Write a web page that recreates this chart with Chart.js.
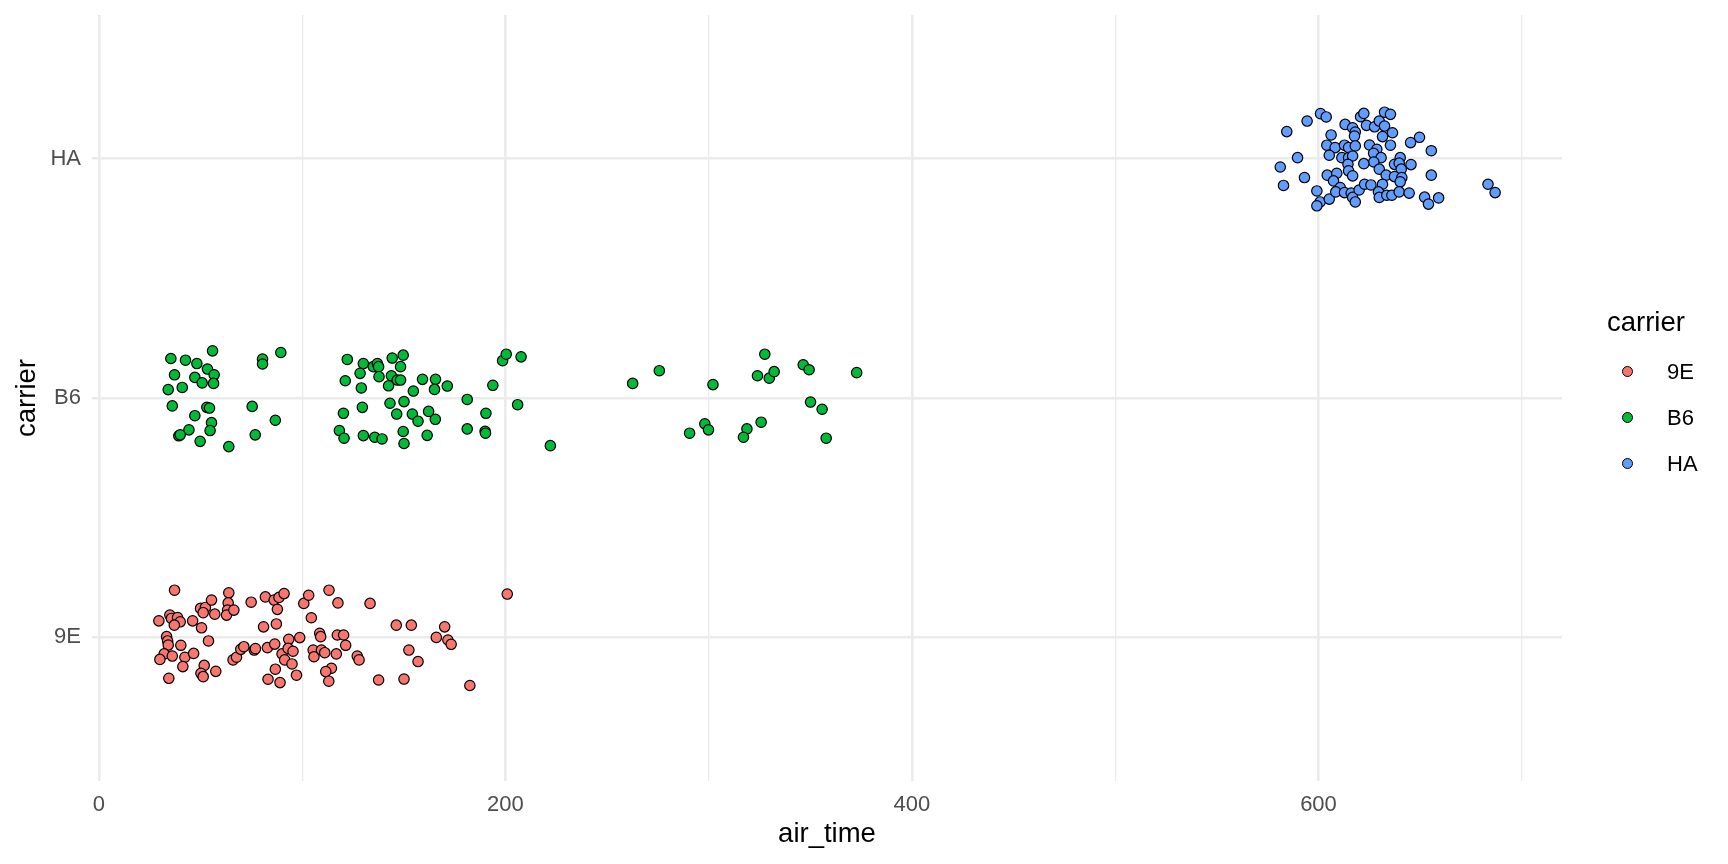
<!DOCTYPE html>
<html>
<head>
<meta charset="utf-8">
<title>air_time by carrier</title>
<script src="https://cdn.jsdelivr.net/npm/chart.js@4.4.1/dist/chart.umd.min.js"></script>
<style>
  body { margin: 0; background: #fff; }
  #wrap { position: relative; width: 1728px; height: 864px; font-family: "Liberation Sans", Arial, sans-serif; }
  #chart { position: absolute; left: 0; top: 0; }
  .legend-title { position: absolute; font-size: 27.5px; line-height: 32px; color: #000; white-space: nowrap; }
  .legend-key { position: absolute; width: 9px; height: 9px; border: 1.2px solid #000; border-radius: 50%; }
  .legend-label { position: absolute; font-size: 22px; line-height: 26px; color: #000; white-space: nowrap; }
</style>
</head>
<body>
<div id="wrap">
  <canvas id="chart" width="1728" height="864"></canvas>
  <div id="legend"></div>
</div>
<script>
// categories and colours
const carriers = ['9E', 'B6', 'HA'];
const carrierColors = ['#F8766D', '#00BA38', '#619CFF'];

// x axis ticks (minor lines at odd hundreds, unlabeled)
const xTickValues = [0, 100, 200, 300, 400, 500, 600, 700];
const xTickLabels = ['0', '', '200', '', '400', '', '600', ''];

// 9E: air_time and jittered carrier position
const airTime9E = [37.2, 29.5, 34.9, 35.7, 38.7, 40.0, 37.1, 33.3, 33.8, 34.1,
  40.3, 32.1, 30.0, 36.1, 42.3, 41.3, 46.6, 34.4, 46.1, 50.5,
  50.0, 52.4, 51.3, 55.4, 57.0, 53.9, 51.8, 50.2, 51.3, 57.5,
  63.9, 63.6, 63.3, 62.8, 66.4, 74.9, 81.9, 86.2, 88.6, 91.1,
  87.8, 81.0, 87.3, 66.0, 67.7, 69.8, 71.3, 76.4, 77.0, 82.9,
  86.5, 90.1, 93.4, 93.1, 95.5, 91.4, 95.0, 86.8, 83.2, 89.1,
  97.2, 98.8, 100.8, 103.2, 104.5, 108.6, 109.1, 105.4, 105.8, 109.5,
  111.1, 116.8, 117.3, 120.4, 121.4, 113.2, 117.6, 114.4, 111.6, 113.1,
  127.1, 128.0, 133.4, 137.6, 146.3, 153.7, 152.5, 157.0, 150.1, 166.0,
  170.1, 171.7, 173.3, 182.5, 200.9];
const pos9E = [1.197, 1.069, 1.093, 1.079, 1.083, 1.065, 1.051, 1.003, 0.985, 0.968,
  0.967, 0.931, 0.908, 0.922, 0.917, 0.878, 0.933, 0.829, 1.069, 1.040,
  1.121, 1.125, 1.103, 1.156, 1.097, 0.985, 0.883, 0.850, 0.836, 0.858,
  1.186, 1.144, 1.114, 1.093, 1.114, 1.147, 1.169, 1.156, 1.167, 1.183,
  1.117, 1.044, 1.056, 0.906, 0.917, 0.950, 0.961, 0.947, 0.953, 0.957,
  0.972, 0.931, 0.992, 0.954, 0.942, 0.906, 0.889, 0.867, 0.825, 0.811,
  0.842, 0.999, 1.142, 1.176, 1.082, 1.017, 1.003, 0.947, 0.919, 0.947,
  0.936, 0.931, 1.010, 1.010, 0.967, 1.197, 1.144, 0.871, 0.857, 0.817,
  0.922, 0.906, 1.142, 0.822, 1.051, 1.051, 0.947, 0.899, 0.826, 1.000,
  1.044, 0.989, 0.971, 0.799, 1.181];

// B6
const airTimeB6 = [35.4, 42.6, 48.2, 55.9, 53.4, 56.7, 56.4, 37.2, 47.2, 50.8,
  41.0, 34.1, 80.5, 80.5, 89.5, 36.1, 47.2, 53.1, 54.4, 55.4,
  54.7, 44.3, 39.3, 40.0, 49.8, 63.9, 75.4, 76.9, 86.8, 122.2,
  130.1, 135.0, 137.0, 137.6, 144.3, 149.7, 148.4, 128.5, 137.8, 143.9,
  146.8, 148.4, 142.5, 121.2, 129.1, 159.2, 165.6, 165.1, 171.4, 154.7,
  193.8, 198.6, 200.4, 120.3, 129.6, 143.2, 150.1, 146.5, 154.2, 157.0,
  162.2, 165.5, 181.2, 190.4, 118.3, 120.6, 130.1, 135.7, 139.3, 149.7,
  150.1, 161.5, 181.2, 190.0, 190.2, 206.0, 207.7, 222.1, 262.6, 275.7,
  302.1, 290.6, 298.1, 299.9, 318.8, 317.1, 325.8, 327.6, 324.0, 329.8,
  332.2, 346.5, 349.4, 372.8, 350.1, 355.8, 357.8];
const posB6 = [2.165, 2.158, 2.144, 2.197, 2.121, 2.097, 2.061, 2.097, 2.086, 2.063,
  2.044, 2.035, 2.163, 2.142, 2.190, 1.967, 1.926, 1.961, 1.958, 1.897,
  1.864, 1.867, 1.842, 1.846, 1.819, 1.797, 1.965, 1.846, 1.907, 2.161,
  2.144, 2.131, 2.144, 2.131, 2.167, 2.179, 2.131, 2.103, 2.089, 2.093,
  2.075, 2.075, 2.051, 2.072, 2.042, 2.078, 2.078, 2.036, 2.050, 2.029,
  2.053, 2.156, 2.183, 1.936, 1.961, 1.978, 1.985, 1.933, 1.933, 1.903,
  1.944, 1.911, 1.994, 1.936, 1.864, 1.832, 1.843, 1.836, 1.829, 1.860,
  1.810, 1.844, 1.871, 1.861, 1.853, 1.972, 2.172, 1.801, 2.061, 2.114,
  2.056, 1.853, 1.892, 1.867, 1.871, 1.836, 1.899, 2.183, 2.093, 2.083,
  2.110, 2.139, 2.118, 2.106, 1.983, 1.953, 1.832];

// HA
const airTimeHA = [584.4, 594.4, 601.0, 603.8, 589.7, 581.2, 593.1, 582.8, 599.2, 600.8,
  599.2, 605.3, 606.2, 604.1, 608.2, 605.3, 612.8, 613.1, 616.8, 618.1,
  617.7, 620.7, 622.3, 623.6, 627.6, 629.9, 632.5, 635.4, 632.5, 636.4,
  631.5, 635.4, 645.3, 649.7, 655.5, 625.1, 628.7, 614.8, 618.1, 611.5,
  614.8, 616.8, 627.1, 630.8, 627.2, 622.3, 614.5, 614.8, 616.8, 629.9,
  633.3, 637.4, 640.2, 639.7, 640.7, 645.5, 637.4, 641.0, 640.2, 604.3,
  609.0, 607.4, 610.7, 608.5, 612.8, 616.1, 616.8, 618.1, 620.0, 622.7,
  625.8, 631.5, 629.5, 629.9, 633.6, 636.1, 639.7, 644.6, 652.2, 654.1,
  659.1, 655.5, 683.4, 686.9];
const posHA = [3.113, 3.157, 3.188, 3.174, 3.004, 2.965, 2.921, 2.888, 2.865, 2.819,
  2.803, 2.831, 3.099, 3.056, 3.046, 3.014, 3.056, 3.143, 3.129, 3.111,
  3.094, 3.175, 3.189, 3.139, 3.133, 3.157, 3.194, 3.185, 3.136, 3.108,
  3.092, 3.056, 3.067, 3.089, 3.033, 3.057, 3.039, 3.046, 3.053, 3.004,
  3.004, 3.011, 3.022, 3.004, 2.986, 2.979, 2.976, 2.949, 2.928, 2.956,
  2.931, 2.976, 3.004, 2.981, 2.956, 2.975, 2.925, 2.921, 2.903, 2.931,
  2.939, 2.907, 2.879, 2.861, 2.858, 2.856, 2.838, 2.819, 2.869, 2.893,
  2.890, 2.893, 2.861, 2.838, 2.847, 2.847, 2.861, 2.856, 2.839, 2.810,
  2.836, 2.931, 2.893, 2.858];

function toPoints(xs, ys) {
  return xs.map((x, i) => ({ x: x, y: ys[i] }));
}

const FONT = '"Liberation Sans", Arial, sans-serif';
const seriesX = [airTime9E, airTimeB6, airTimeHA];
const seriesY = [pos9E, posB6, posHA];

const datasets = carriers.map((c, i) => ({
  label: c,
  data: toPoints(seriesX[i], seriesY[i]),
  backgroundColor: carrierColors[i],
  borderColor: '#000',
  borderWidth: 1.2,
  pointRadius: 5.2,
  pointHoverRadius: 5.2
}));

new Chart(document.getElementById('chart').getContext('2d'), {
  type: 'scatter',
  data: { datasets: datasets },
  options: {
    responsive: false,
    devicePixelRatio: 1,
    animation: false,
    events: [],
    layout: { padding: { left: 0, top: 15, right: 166, bottom: 0 } },
    plugins: {
      legend: { display: false },
      tooltip: { enabled: false }
    },
    scales: {
      x: {
        type: 'linear',
        min: -3.4,
        max: 719.8,
        afterBuildTicks: scale => { scale.ticks = xTickValues.map(v => ({ value: v })); },
        afterFit: scale => { scale.height = 83; },
        ticks: {
          autoSkip: false,
          maxRotation: 0,
          padding: 11,
          color: '#4D4D4D',
          font: { family: FONT, size: 22 },
          callback: value => xTickLabels[xTickValues.indexOf(value)]
        },
        grid: {
          color: '#EBEBEB',
          drawTicks: false,
          lineWidth: ctx => (ctx.tick && ctx.tick.value % 200 === 0) ? 2.6 : 1.3
        },
        border: { display: false },
        title: {
          display: true,
          text: 'air_time',
          color: '#000',
          font: { family: FONT, size: 27.5 },
          padding: { top: 0, bottom: 13 }
        }
      },
      y: {
        type: 'linear',
        min: 0.4,
        max: 3.6,
        afterBuildTicks: scale => { scale.ticks = carriers.map((c, i) => ({ value: i + 1 })); },
        afterFit: scale => {
          scale.width = 92;
          // ticks sit inside the range, no extra room needed above/below
          scale.paddingTop = 0;
          scale.paddingBottom = 0;
        },
        ticks: {
          padding: 11,
          color: '#4D4D4D',
          font: { family: FONT, size: 22 },
          callback: value => carriers[value - 1]
        },
        grid: {
          color: '#EBEBEB',
          drawTicks: false,
          lineWidth: 2.6
        },
        border: { display: false },
        title: {
          display: true,
          text: 'carrier',
          color: '#000',
          font: { family: FONT, size: 27.5 },
          padding: { top: 11, bottom: 0 }
        }
      }
    }
  }
});

// legend on the right, built from the same categories
const legend = document.getElementById('legend');
const title = document.createElement('div');
title.className = 'legend-title';
title.textContent = 'carrier';
title.style.left = '1607px';
title.style.top = '306px';
legend.appendChild(title);

carriers.forEach((c, i) => {
  const cy = 372 + i * 46;
  const key = document.createElement('div');
  key.className = 'legend-key';
  key.style.background = carrierColors[i];
  key.style.left = (1628 - 5.7) + 'px';
  key.style.top = (cy - 5.7) + 'px';
  legend.appendChild(key);

  const label = document.createElement('div');
  label.className = 'legend-label';
  label.textContent = c;
  label.style.left = '1667px';
  label.style.top = (cy - 13) + 'px';
  legend.appendChild(label);
});
</script>
</body>
</html>
